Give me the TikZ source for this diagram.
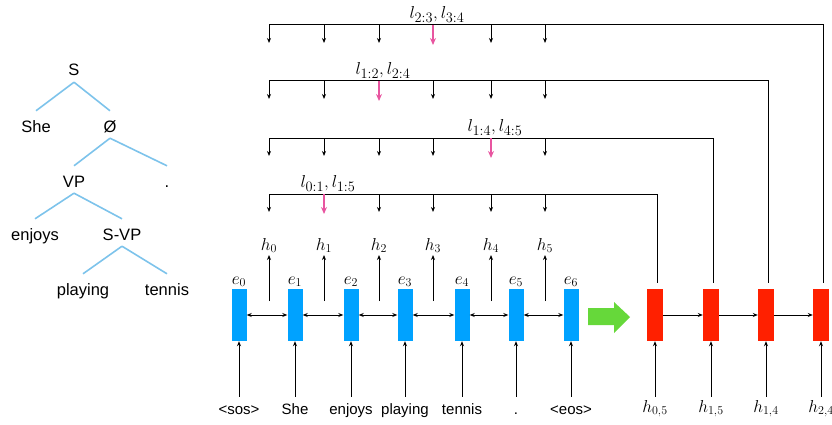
\documentclass[tikz,border=0pt]{standalone}
\usepackage[no-math]{fontspec}
\setmainfont{Liberation Sans}
\usetikzlibrary{arrows.meta,positioning}

\definecolor{encblue}{RGB}{0,162,255}
\definecolor{decred}{RGB}{255,32,0}
\definecolor{treeblue}{RGB}{125,195,235}
\definecolor{spanpink}{RGB}{232,85,160}
\definecolor{nextgreen}{RGB}{102,216,58}

\tikzset{
  enc/.style={fill=encblue, minimum width=15pt, minimum height=52pt, inner sep=0pt},
  dec/.style={fill=decred, minimum width=16pt, minimum height=52pt, inner sep=0pt},
  tword/.style={font=\fontsize{16.5}{18}\selectfont, anchor=base, text height=17pt, text depth=2pt, inner xsep=1pt, inner ysep=4pt},
  word/.style={font=\fontsize{15}{18}\selectfont, anchor=base, text height=11pt, text depth=3pt, inner ysep=6pt},
  vec/.style={font=\fontsize{17}{18}\selectfont, inner sep=1pt},
  hout/.style={font=\fontsize{17}{18}\selectfont, anchor=south, inner sep=2pt},
  hin/.style={font=\fontsize{17}{18}\selectfont, anchor=base, text height=11pt, text depth=4pt, inner ysep=4pt},
  spanlab/.style={font=\fontsize{19}{20}\selectfont, inner sep=2.5pt},
  branch/.style={treeblue, line width=1.6pt},
  wire/.style={line width=1pt},
  arr/.style={-{Stealth[length=5pt,width=4pt]}, line width=1pt},
  biarr/.style={{Stealth[length=5pt,width=4pt]}-{Stealth[length=5pt,width=4pt]}, line width=1pt},
  pinkarr/.style={-{Stealth[length=7pt,width=6pt]}, spanpink, line width=2pt}
}

\begin{document}
\begin{tikzpicture}[x=1pt,y=-1pt]
  \useasboundingbox (0,0) rectangle (832,425);

  % parse tree
  \node[tword] (tS) at (74,76) {S};
  \node[tword] (tShe) at (36,132) {She};
  \node[tword] (tNull) at (110,132) {Ø};
  \node[tword] (tVP) at (74,187) {VP};
  \node[tword] (tDot) at (167,187) {.};
  \node[tword] (tEnjoys) at (35,240) {enjoys};
  \node[tword] (tSVP) at (122,240) {S-VP};
  \node[tword] (tPlaying) at (83,295) {playing};
  \node[tword] (tTennis) at (167,295) {tennis};

  \draw[branch] (tS.south) -- (tShe.north);
  \draw[branch] (tS.south) -- (tNull.north);
  \draw[branch] (tNull.south) -- (tVP.north);
  \draw[branch] (tNull.south) -- (tDot.north);
  \draw[branch] (tVP.south) -- (tEnjoys.north);
  \draw[branch] (tVP.south) -- (tSVP.north);
  \draw[branch] (tSVP.south) -- (tPlaying.north);
  \draw[branch] (tSVP.south) -- (tTennis.north);

  % encoder
  \foreach \i/\x/\w in {0/239/{<sos>},1/295/She,2/351/enjoys,3/405/playing,4/462/tennis,5/516/.,6/571/{<eos>}} {
    \node[enc] (e\i) at (\x,315) {};
    \node[vec, above=1pt of e\i] (le\i) {$e_{\i}$};
    \node[word] (w\i) at (\x,414) {\w};
    \draw[arr] (w\i.north) -- (e\i.south);
  }
  \foreach \i/\j in {0/1,1/2,2/3,3/4,4/5,5/6}
    \draw[biarr] (e\i) -- (e\j);

  \foreach \i/\x in {0/269,1/324,2/379,3/433,4/491,5/545} {
    \coordinate (hs\i) at (\x,301);
    \node[hout] (h\i) at (\x,255) {$h_{\i}$};
    \draw[arr] (hs\i) -- (h\i);
  }

  % green arrow
  \fill[nextgreen] (588,308) -- (614,308) -- (614,302) -- (630,317)
    -- (614,333) -- (614,325) -- (588,325) -- cycle;

  % decoder
  \foreach \i/\x/\s in {1/655/{0,5},2/711/{1,5},3/766/{1,4},4/821/{2,4}} {
    \node[dec] (r\i) at (\x,315) {};
    \node[hin] (d\i) at (\x,412) {$h_{\s}$};
    \draw[arr] (d\i.north) -- (r\i.south);
  }
  \foreach \i/\j in {1/2,2/3,3/4}
    \draw[arr] (r\i) -- (r\j);

  % span brackets
  \foreach \k/\y/\p/\lab in {1/194/324/{l_{0:1}, l_{1:5}},2/138/491/{l_{1:4}, l_{4:5}},3/81/379/{l_{1:2}, l_{2:4}},4/25/433/{l_{2:3}, l_{3:4}}} {
    \coordinate (top\k) at (269,\y);
    \draw[wire] (top\k) -| ([xshift=2pt,yshift=6pt]r\k.north);
    \foreach \c in {269,324,379,433,491,545} {
      \ifnum\c=\p\else \draw[arr] (\c,\y) -- ++(0,18); \fi
    }
    \draw[pinkarr] (\p,\y) -- ++(0,20);
    \node[spanlab, above] (l\k) at (\p+4,\y) {$\lab$};
  }
\end{tikzpicture}
\end{document}
